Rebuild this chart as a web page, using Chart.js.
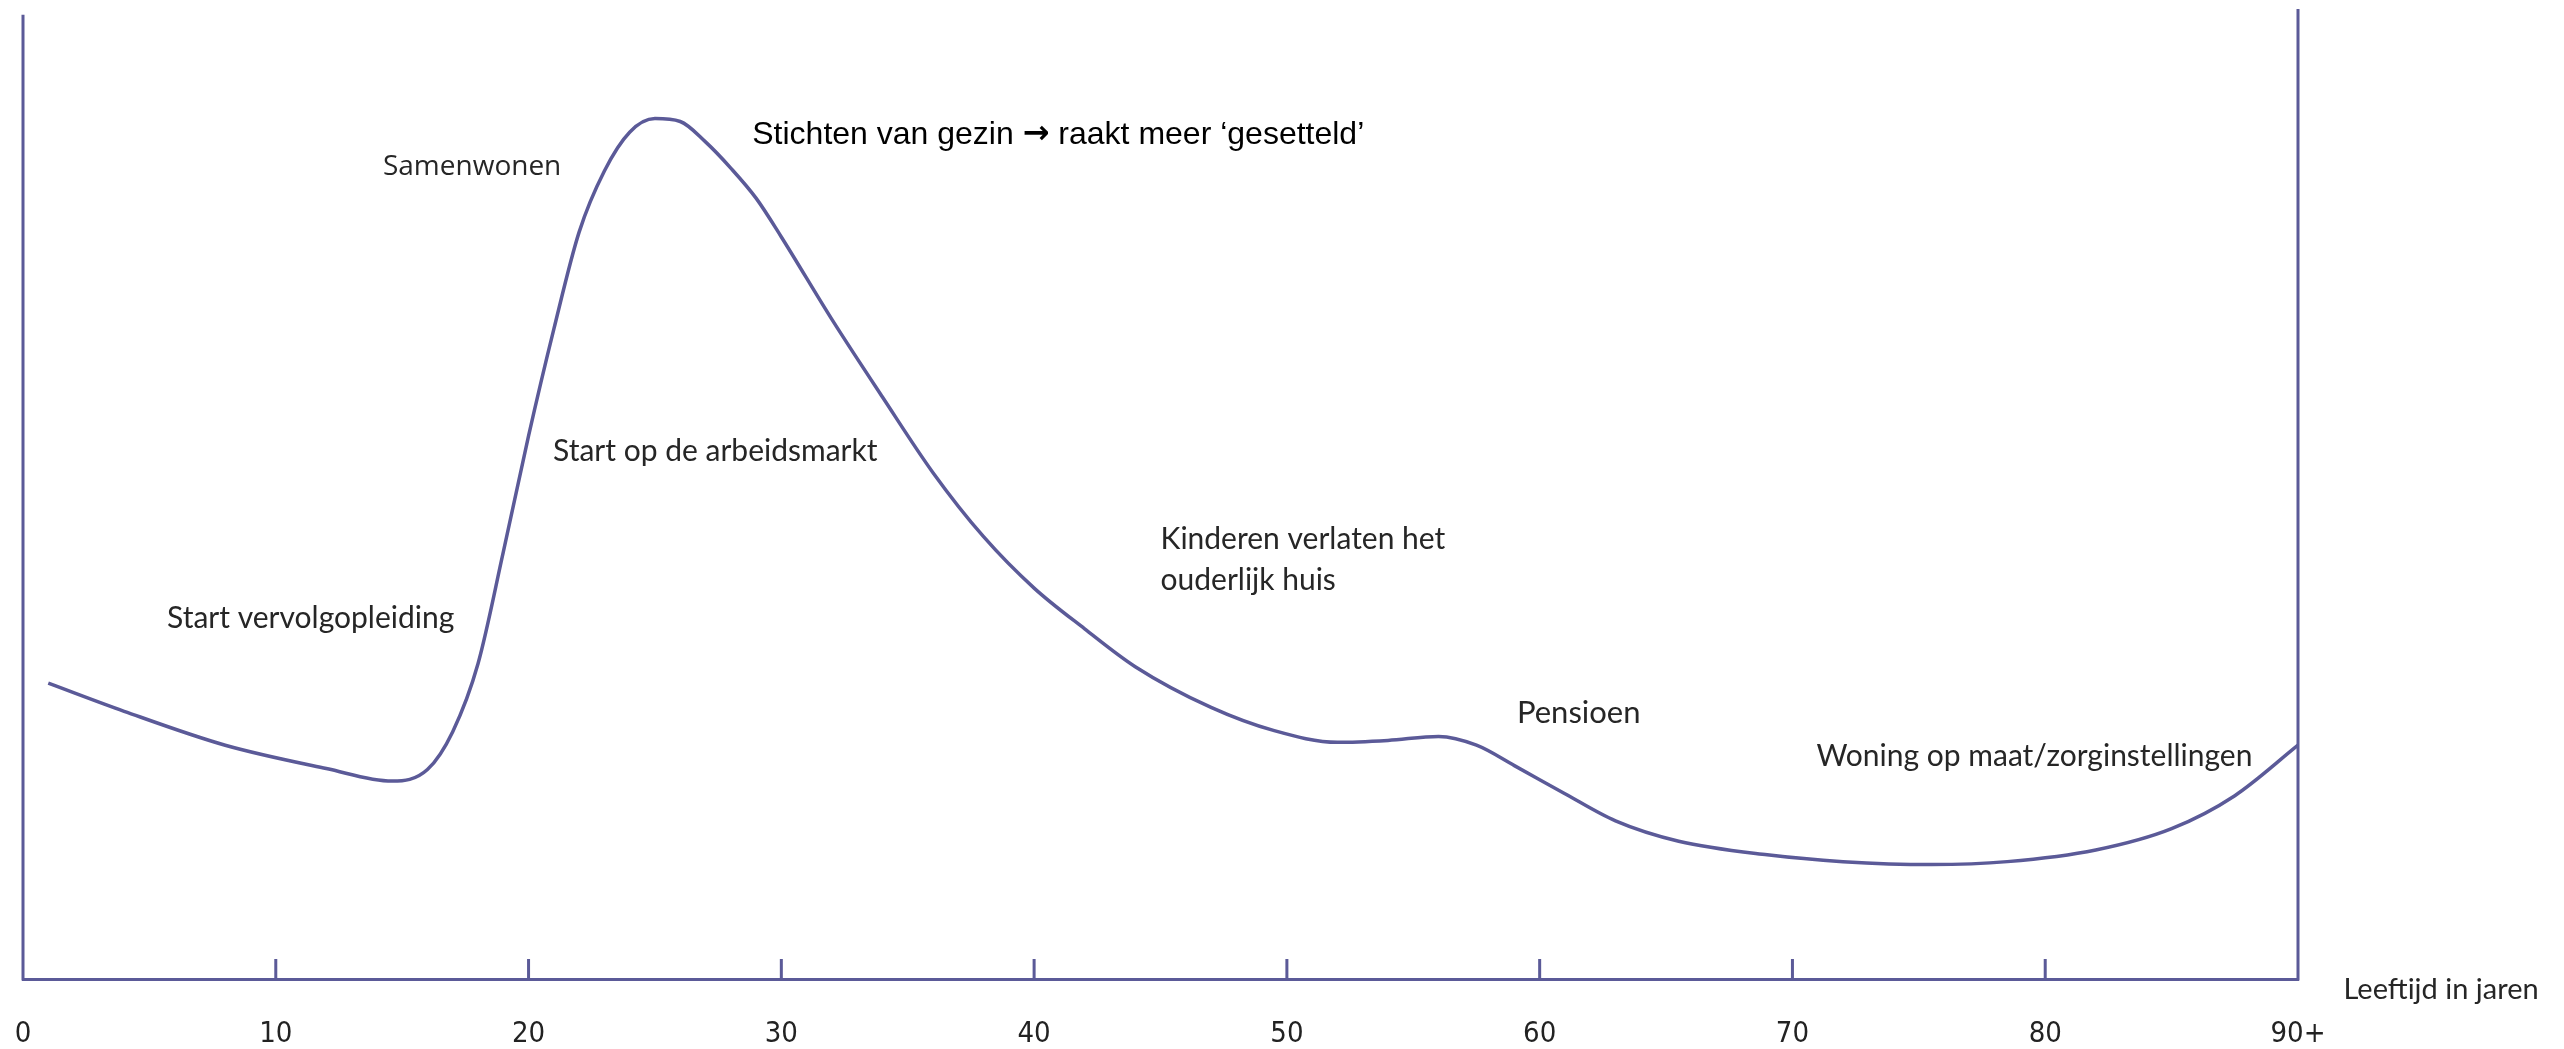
<!DOCTYPE html>
<html><head><meta charset="utf-8">
<script src="https://cdn.jsdelivr.net/npm/chart.js@4.4.1/dist/chart.umd.min.js"></script>
<style>html,body{margin:0;padding:0;background:#fff;overflow:hidden;}#wrap{width:2564px;height:1049px;}</style>
</head><body><div id="wrap"><canvas id="c" width="2564" height="1049"></canvas></div>
<script>
// Age (years) along the x axis
const ages = [1, 4, 8, 12, 14.6, 16, 17, 18, 19, 20, 21, 22, 23, 24, 25, 26, 27, 28, 29, 30, 32, 34, 36, 38, 40, 42, 44, 47, 49.5, 52, 54, 56, 57.5, 59, 61, 63, 65.5, 69, 72, 75.5, 78.5, 82, 85, 87.5, 90];
// Relative housing mobility (arbitrary units, 0 = axis, 100 = top)
const mobility = [30.5, 27.6, 24.1, 21.7, 20.4, 21.6, 25.5, 32.5, 44, 56, 67, 77, 83.3, 87.3, 88.7, 88.4, 86.3, 83.6, 80.5, 76.5, 68, 60, 52.2, 45.6, 40.3, 36.1, 32.2, 28, 25.6, 24.4, 24.6, 25.0, 24.1, 22, 19.1, 16.3, 14.2, 12.8, 12.1, 11.8, 12.1, 13.3, 15.5, 18.9, 24.1];
// Tick labels
const tickValues = [0, 10, 20, 30, 40, 50, 60, 70, 80, 90];
const tickLabels = ['0', '10', '20', '30', '40', '50', '60', '70', '80', '90+'];
const axisTitle = 'Leeftijd in jaren';
// Life-event labels
const eventTexts = ['Samenwonen', 'Stichten van gezin \u2192 raakt meer \u2018gesetteld\u2019', 'Start op de arbeidsmarkt', 'Start vervolgopleiding', 'Kinderen verlaten het', 'ouderlijk huis', 'Pensioen', 'Woning op maat/zorginstellingen'];
const eventAges = [14.24, 28.85, 20.97, 5.7, 45.0, 45.0, 59.1, 70.95];
const eventValues = [83.7, 87.0, 54.4, 37.2, 45.3, 41.1, 27.4, 23.0];
const eventSizes = [28, 32, 30, 30, 30, 30, 31, 30];

const LINE = '#5b5a98';
const calibri = '"Lato", "Open Sans", sans-serif';

function drawMixed(ctx, text, px, py, size) {
  // Arial-like text with a heavier arrow glyph
  const parts = text.split('\u2192');
  const f1 = size + 'px "Liberation Sans", Arial, sans-serif';
  const f2 = 'bold ' + size + 'px "DejaVu Sans", sans-serif';
  let cx = px;
  ctx.font = f1; ctx.fillText(parts[0], cx, py); cx += ctx.measureText(parts[0]).width;
  ctx.font = f2; ctx.fillText('\u2192', cx, py); cx += ctx.measureText('\u2192').width;
  ctx.font = f1; ctx.fillText(parts[1], cx, py);
}

const overlay = {
  id: 'overlay',
  afterDraw(chart) {
    const ctx = chart.ctx, x = chart.scales.x, y = chart.scales.y, a = chart.chartArea;
    ctx.save();
    ctx.strokeStyle = LINE;
    ctx.lineWidth = 3;
    ctx.lineCap = 'butt';
    // left and right verticals
    ctx.beginPath();
    ctx.moveTo(x.getPixelForValue(0), y.getPixelForValue(99.4));
    ctx.lineTo(x.getPixelForValue(0), a.bottom + 1.5);
    ctx.moveTo(x.getPixelForValue(90), y.getPixelForValue(100));
    ctx.lineTo(x.getPixelForValue(90), a.bottom + 1.5);
    ctx.stroke();
    // inward tick marks
    ctx.beginPath();
    tickValues.forEach(v => {
      if (v === 0 || v === 90) return;
      const px = x.getPixelForValue(v);
      ctx.moveTo(px, a.bottom);
      ctx.lineTo(px, a.bottom - 20);
    });
    ctx.stroke();
    // event labels
    ctx.textBaseline = 'middle';
    ctx.textAlign = 'left';
    eventTexts.forEach((t, i) => {
      const px = x.getPixelForValue(eventAges[i]), py = y.getPixelForValue(eventValues[i]);
      if (i === 1) { ctx.fillStyle = '#000'; drawMixed(ctx, t, px, py, eventSizes[i]); }
      else {
        ctx.font = eventSizes[i] + 'px ' + (i === 0 ? '"Open Sans", sans-serif' : calibri);
        ctx.fillStyle = '#262626';
        ctx.fillText(t, px, py);
      }
    });
    // axis title
    ctx.font = '29px ' + calibri;
    ctx.fillStyle = '#262626';
    ctx.fillText(axisTitle, x.getPixelForValue(91.8), y.getPixelForValue(-1.1));
    ctx.restore();
  }
};

new Chart(document.getElementById('c'), {
  type: 'line',
  data: {
    datasets: [{
      data: ages.map((a, i) => ({ x: a, y: mobility[i] })),
      borderColor: LINE,
      borderWidth: 3.5,
      pointRadius: 0,
      cubicInterpolationMode: 'monotone',
      fill: false,
      clip: false
    }]
  },
  options: {
    responsive: false,
    animation: false,
    devicePixelRatio: 1,
    layout: { padding: { left: 23, right: 266, top: 9, bottom: 0 } },
    plugins: { legend: { display: false }, tooltip: { enabled: false } },
    scales: {
      x: {
        type: 'linear', min: 0, max: 90,
        afterBuildTicks(s) { s.ticks = tickValues.map(v => ({ value: v })); },
        afterFit(s) { s.height = 70; },
        grid: { display: false, drawTicks: true, tickLength: 38 },
        border: { display: true, color: LINE, width: 3 },
        ticks: {
          padding: 0,
          maxRotation: 0,
          autoSkip: false,
          color: '#222',
          font: { family: '"Liberation Sans Narrow", "DejaVu Sans Condensed", sans-serif', size: 29 },
          callback: (v) => tickLabels[tickValues.indexOf(v)]
        }
      },
      y: { display: false, min: 0, max: 100 }
    }
  },
  plugins: [overlay]
});
</script>
</body></html>
